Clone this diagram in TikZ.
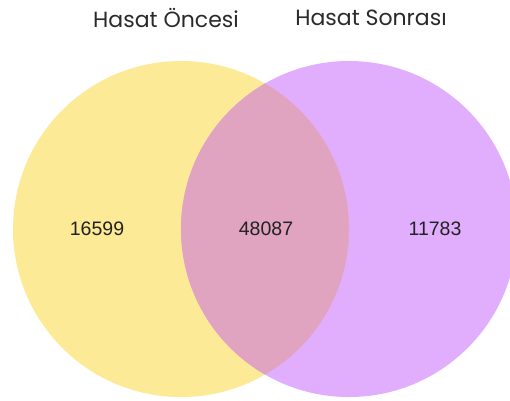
\documentclass[tikz,border=0pt]{standalone}
\usepackage{fontspec}
\setmainfont{Liberation Sans}
\newfontfamily\titlefont{Poppins}
\definecolor{setA}{HTML}{FDEA96}
\definecolor{setB}{HTML}{E0AEFC}
\definecolor{setAB}{HTML}{E0A3C0}
\definecolor{numcol}{HTML}{222222}
\definecolor{titlecol}{HTML}{2A2A2A}
\begin{document}
\begin{tikzpicture}[x=1pt,y=-1pt,
  settitle/.style={font=\titlefont\fontsize{22}{26}\selectfont, text=titlecol, inner sep=0pt},
  setcount/.style={font=\fontsize{19.5}{23}\selectfont, text=numcol, inner sep=0pt}]
  \useasboundingbox (0,0) rectangle (510,400);
  \fill[white] (0,0) rectangle (510,400);
  % the two sets
  \fill[setA] (181,229) circle (168);
  \fill[setB] (349,229) circle (168);
  % their intersection
  \begin{scope}
    \clip (181,229) circle (168);
    \fill[setAB] (349,229) circle (168);
  \end{scope}
  % set names
  \node[settitle] (tA) at (166,18) {Hasat Öncesi};
  \node[settitle] (tB) at (371,18) {Hasat Sonrası};
  % counts
  \node[setcount] (nA) at (97,229) {16599};
  \node[setcount] (nAB) at (266,229) {48087};
  \node[setcount] (nB) at (435,229) {11783};
\end{tikzpicture}
\end{document}
